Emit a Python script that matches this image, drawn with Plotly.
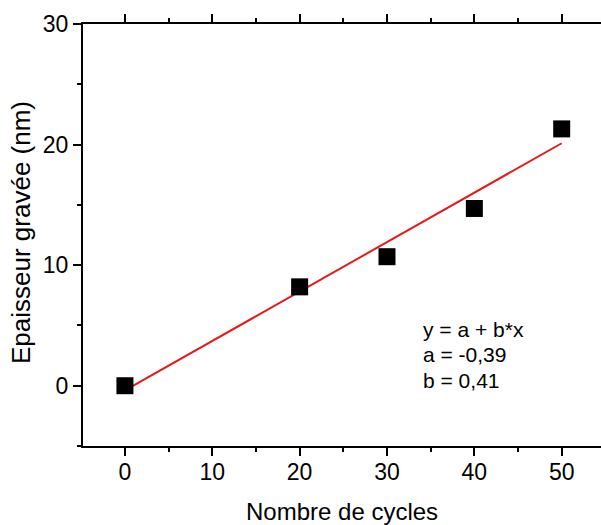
import plotly.graph_objects as go

cycles = [0, 20, 30, 40, 50]
thickness = [0.0, 8.2, 10.7, 14.7, 21.3]
fit_a = -0.39
fit_b = 0.41
fit_x = [0, 50]
fit_y = [fit_a + fit_b * x for x in fit_x]
x_ticks = [0, 10, 20, 30, 40, 50]
y_ticks = [0, 10, 20, 30]
fit_lines = ["y = a + b*x", "a = -0,39", "b = 0,41"]

font = "Liberation Sans, Arial, sans-serif"

fig = go.Figure()
fig.add_trace(go.Scatter(x=fit_x, y=fit_y, mode="lines",
                         line=dict(color="#e41a1c", width=2), showlegend=False))
fig.add_trace(go.Scatter(x=cycles, y=thickness, mode="markers",
                         marker=dict(symbol="square", size=17, color="black"),
                         showlegend=False))

for i, txt in enumerate(fit_lines):
    fig.add_annotation(x=0.653, y=(446 - 329 - 25.5 * i) / 422,
                       xref="paper", yref="paper", xanchor="left", yanchor="middle",
                       align="left", showarrow=False, text=txt,
                       font=dict(family=font, size=21, color="black"))

fig.add_annotation(x=0.5, y=-(511 - 446) / 422, xref="paper", yref="paper",
                   xanchor="center", yanchor="middle",
                   showarrow=False, text="Nombre de cycles",
                   font=dict(family=font, size=24, color="black"))
fig.add_annotation(x=-(83 - 21) / 518, y=(446 - 233) / 422, xref="paper", yref="paper",
                   xanchor="center", yanchor="middle",
                   showarrow=False, text="Epaisseur gravée (nm)", textangle=-90,
                   font=dict(family=font, size=26, color="black"))

axis_common = dict(showgrid=False, zeroline=False, showline=True, linecolor="black", linewidth=2,
                   ticks="outside", ticklen=8, tickwidth=2, tickcolor="black", automargin=False,
                   tickfont=dict(family=font, size=23, color="black"))

fig.update_xaxes(range=[-4.8, 54.5], tickvals=x_ticks, mirror="ticks", ticklabelstandoff=-4,
                 minor=dict(ticks="outside", ticklen=4, tickwidth=2, dtick=5, tick0=5, tickcolor="black"),
                 **axis_common)
fig.update_yaxes(range=[-5, 30], tickvals=y_ticks,
                 minor=dict(ticks="outside", ticklen=4, tickwidth=2, dtick=5, tick0=5, tickcolor="black"),
                 **axis_common)

fig.update_layout(width=601, height=525, margin=dict(l=83, r=0, t=24, b=79),
                  plot_bgcolor="white", paper_bgcolor="white")

fig.write_html("out.html", config={"displayModeBar": False},
               post_script="document.body.style.margin='0';document.body.style.padding='0';")
